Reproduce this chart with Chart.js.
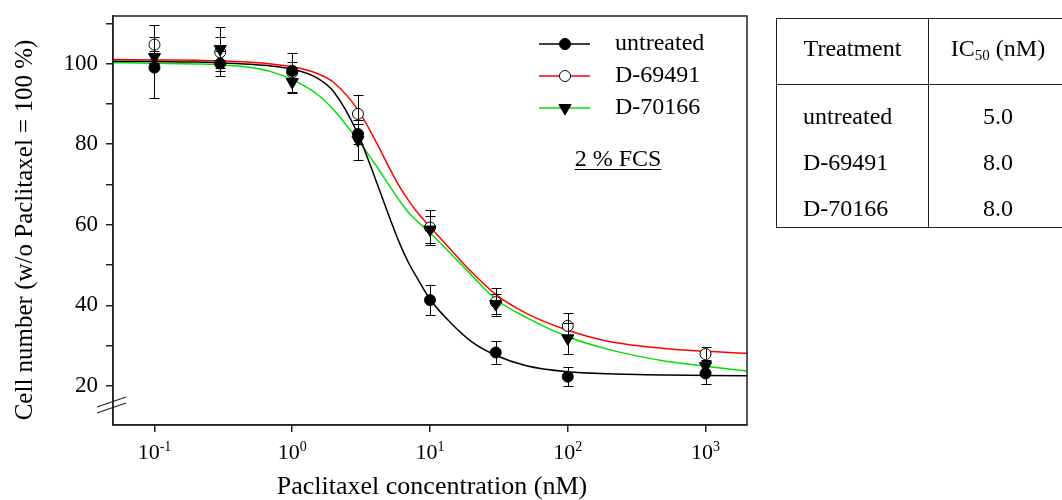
<!DOCTYPE html>
<html lang="en">
<head>
<meta charset="UTF-8">
<title>Paclitaxel dose response</title>
<script src="https://cdn.jsdelivr.net/npm/chart.js"></script>
<style>
  body { margin: 0; background: #fff; font-family: "Liberation Serif", "Times New Roman", serif; }
  #wrap { position: relative; width: 1062px; height: 500px; overflow: hidden; }
  #chartBox { position: absolute; left: 0; top: 0; width: 1062px; height: 500px; }
  .tbl { position: absolute; left: 776px; top: 18px; width: 320px; height: 210px;
         border: 1.5px solid #222; border-right: none; box-sizing: border-box; }
  .vline { position: absolute; left: 151px; top: 0; width: 0; height: 100%; border-left: 1.5px solid #222; }
  .hline { position: absolute; left: 0; top: 65px; width: 100%; height: 0; border-top: 1.5px solid #222; }
  .cell { position: absolute; font-size: 24px; color: #000; white-space: nowrap; line-height: 1; }
  .cell sub { font-size: 15px; vertical-align: -4px; }
</style>
</head>
<body>
<div id="wrap">
  <div id="chartBox"><canvas id="grafico"></canvas></div>
  <div class="tbl" id="tabella"></div>
</div>
<script>
  const concentrazioni = [0.1, 0.3, 1, 3, 10, 30, 100, 1000];
  const untreatedMedia = [99.0, 100.0, 98.2, 82.5, 41.3, 28.3, 22.3, 23.1];
  const untreatedErr   = [7.6, 3.2, 2.2, 2.5, 3.8, 2.8, 2.4, 2.6];
  const d69491Media    = [104.7, 102.8, 97.8, 87.5, 59.3, 40.8, 34.9, 27.9];
  const d69491Err      = [4.8, 3.9, 4.9, 4.8, 4.3, 3.4, 3.1, 1.8];
  const d70166Media    = [101.6, 103.6, 95.4, 81.0, 58.8, 40.3, 31.8, 24.9];
  const d70166Err      = [1.5, 5.4, 2.8, 5.0, 3.3, 2.4, 3.8, 1.5];

  // curve di fit
  const fitX         = [0.05, 0.1, 0.2, 0.3, 0.5, 0.7, 1, 1.5, 2, 3, 4, 5, 6, 7, 8, 10, 14, 20, 30, 50, 100, 200, 500, 1000, 2000];
  const fitUntreated = [100.6, 100.5, 100.4, 100.2, 99.8, 99.4, 98.6, 96.5, 93.0, 82.5, 71.5, 62.5, 55.5, 50.5, 47.0, 41.5, 35.8, 31.0, 27.6, 25.0, 23.5, 23.0, 22.7, 22.6, 22.5];
  const fitD69491    = [101.0, 100.9, 100.8, 100.7, 100.3, 99.9, 99.2, 97.6, 95.3, 88.5, 81.0, 74.5, 69.5, 66.0, 63.3, 59.5, 54.0, 48.3, 42.7, 38.0, 33.8, 31.0, 29.3, 28.6, 28.1];
  const fitD70166    = [100.2, 100.1, 99.9, 99.7, 99.0, 98.0, 96.0, 92.5, 88.5, 81.0, 75.0, 70.0, 66.0, 63.0, 61.0, 58.0, 53.0, 47.5, 41.5, 37.0, 32.2, 29.0, 26.2, 24.9, 23.7];

  const xTicks = [0.1, 1, 10, 100, 1000];
  const xEsponenti = ['-1', '0', '1', '2', '3'];
  const yTicks = [20, 30, 40, 50, 60, 70, 80, 90, 100, 110];
  const yEtichette = [20, 40, 60, 80, 100];

  const serieNomi = ['untreated', 'D-69491', 'D-70166'];
  const serieColori = ['#000000', '#ff0000', '#00e000'];

  const trattamenti = ['untreated', 'D-69491', 'D-70166'];
  const ic50 = ['5.0', '8.0', '8.0'];

  const FONT = '"Liberation Serif", "Times New Roman", serif';
  const AXIS = '#222';

  function punti(xs, ys) { return xs.map((x, i) => ({ x: x, y: ys[i] })); }

  const marcatori = [
    { style: 'circle', radius: 5.5, fill: '#000', rot: 0 },
    { style: 'circle', radius: 5.5, fill: '#fff', rot: 0 },
    { style: 'triangle', radius: 7, fill: '#000', rot: 180 }
  ];

  const mediePerSerie = [untreatedMedia, d69491Media, d70166Media];
  const erroriPerSerie = [untreatedErr, d69491Err, d70166Err];
  const fitPerSerie = [fitUntreated, fitD69491, fitD70166];

  const datasets = [];
  // punti: untreated sopra gli altri
  [0, 2, 1].forEach((s, k) => {
    datasets.push({
      type: 'scatter',
      label: serieNomi[s] + ' dati',
      data: punti(concentrazioni, mediePerSerie[s]),
      errori: erroriPerSerie[s],
      pointStyle: marcatori[s].style,
      pointRadius: marcatori[s].radius,
      pointRotation: marcatori[s].rot,
      pointBackgroundColor: marcatori[s].fill,
      pointBorderColor: '#000',
      pointBorderWidth: 1,
      showLine: false,
      order: k + 1
    });
  });
  serieNomi.forEach((nome, s) => {
    datasets.push({
      type: 'line',
      label: nome + ' fit',
      data: punti(fitX, fitPerSerie[s]),
      borderColor: serieColori[s],
      borderWidth: 1.5,
      pointRadius: 0,
      cubicInterpolationMode: 'monotone',
      fill: false,
      order: 10 + s
    });
  });

  function disegnaMarcatore(ctx, m, x, y) {
    ctx.save();
    ctx.fillStyle = m.fill;
    ctx.strokeStyle = '#000';
    ctx.lineWidth = 1;
    ctx.beginPath();
    if (m.style === 'circle') {
      ctx.arc(x, y, m.radius, 0, Math.PI * 2);
    } else {
      const r = m.radius;
      ctx.moveTo(x - r * 0.866, y - r * 0.5);
      ctx.lineTo(x + r * 0.866, y - r * 0.5);
      ctx.lineTo(x, y + r);
      ctx.closePath();
    }
    ctx.fill();
    ctx.stroke();
    ctx.restore();
  }

  const decorazioni = {
    id: 'decorazioni',
    afterDatasetsDraw(chart) {
      const ctx = chart.ctx;
      const xs = chart.scales.x, ys = chart.scales.y;
      ctx.save();
      ctx.strokeStyle = '#000';
      ctx.lineWidth = 1;
      chart.data.datasets.forEach(ds => {
        if (!ds.errori) return;
        ds.data.forEach((p, i) => {
          const px = Math.round(xs.getPixelForValue(p.x)) + 0.5;
          const yt = ys.getPixelForValue(p.y + ds.errori[i]);
          const yb = ys.getPixelForValue(p.y - ds.errori[i]);
          ctx.beginPath();
          ctx.moveTo(px, yt); ctx.lineTo(px, yb);
          ctx.moveTo(px - 5, Math.round(yt) + 0.5); ctx.lineTo(px + 5, Math.round(yt) + 0.5);
          ctx.moveTo(px - 5, Math.round(yb) + 0.5); ctx.lineTo(px + 5, Math.round(yb) + 0.5);
          ctx.stroke();
        });
      });
      ctx.restore();
    },
    afterDraw(chart) {
      const ctx = chart.ctx;
      const a = chart.chartArea;
      const xs = chart.scales.x;
      ctx.save();
      // cornice
      ctx.strokeStyle = AXIS;
      ctx.lineWidth = 1.5;
      ctx.strokeRect(a.left, a.top, a.right - a.left, a.bottom - a.top);

      // interruzione asse y
      ctx.lineWidth = 1.2;
      ctx.beginPath();
      ctx.moveTo(a.left - 16, 407); ctx.lineTo(a.left + 13, 397);
      ctx.moveTo(a.left - 16, 413); ctx.lineTo(a.left + 13, 403);
      ctx.stroke();

      // etichette asse x con esponente
      ctx.fillStyle = '#000';
      ctx.textBaseline = 'alphabetic';
      xTicks.forEach((v, i) => {
        const px = xs.getPixelForValue(v);
        ctx.font = '22px ' + FONT;
        const wb = ctx.measureText('10').width;
        ctx.font = '14px ' + FONT;
        const we = ctx.measureText(xEsponenti[i]).width;
        const x0 = px - (wb + we) / 2;
        ctx.font = '22px ' + FONT;
        ctx.textAlign = 'left';
        ctx.fillText('10', x0, 459);
        ctx.font = '14px ' + FONT;
        ctx.fillText(xEsponenti[i], x0 + wb, 451);
      });

      // titoli assi
      ctx.textAlign = 'center';
      ctx.textBaseline = 'middle';
      ctx.font = '26px ' + FONT;
      ctx.fillText('Paclitaxel concentration (nM)', 432, 487);
      ctx.font = '25px ' + FONT;
      ctx.save();
      ctx.translate(25, 230);
      ctx.rotate(-Math.PI / 2);
      ctx.fillText('Cell number (w/o Paclitaxel = 100 %)', 0, 0);
      ctx.restore();

      // legenda
      const righe = [44, 76, 108];
      serieNomi.forEach((nome, s) => {
        const y = righe[s];
        ctx.strokeStyle = serieColori[s];
        ctx.lineWidth = 1.5;
        ctx.beginPath();
        ctx.moveTo(539, y); ctx.lineTo(590, y);
        ctx.stroke();
        disegnaMarcatore(ctx, marcatori[s], 565, y);
        ctx.fillStyle = '#000';
        ctx.font = '24px ' + FONT;
        ctx.textAlign = 'left';
        ctx.textBaseline = 'middle';
        ctx.fillText(nome, 615, y);
      });

      // nota FCS sottolineata
      ctx.font = '24px ' + FONT;
      ctx.textAlign = 'center';
      ctx.textBaseline = 'alphabetic';
      ctx.fillText('2 % FCS', 618, 166);
      const wf = ctx.measureText('2 % FCS').width;
      ctx.strokeStyle = '#000';
      ctx.lineWidth = 1;
      ctx.beginPath();
      ctx.moveTo(618 - wf / 2, 169.5); ctx.lineTo(618 + wf / 2, 169.5);
      ctx.stroke();
      ctx.restore();
    }
  };

  function senzaPadding(s) {
    s.paddingTop = 0; s.paddingBottom = 0; s.paddingLeft = 0; s.paddingRight = 0;
  }

  const ctx = document.getElementById('grafico').getContext('2d');
  const chart = new Chart(ctx, {
    data: { datasets: datasets },
    options: {
      responsive: true,
      maintainAspectRatio: false,
      animation: false,
      layout: { padding: { left: 0, right: 315, top: 16, bottom: 0 } },
      plugins: { legend: { display: false }, tooltip: { enabled: false } },
      scales: {
        x: {
          type: 'logarithmic',
          position: 'bottom',
          min: 0.05,
          max: 2000,
          afterBuildTicks: s => { s.ticks = xTicks.map(v => ({ value: v })); },
          afterFit: s => { s.height = 75; senzaPadding(s); },
          ticks: { display: false },
          grid: { drawOnChartArea: false, drawTicks: true, tickLength: 7, color: AXIS, lineWidth: 1.5 },
          border: { display: true, color: AXIS, width: 1.5 }
        },
        y: {
          type: 'linear',
          min: 10.3,
          max: 111.8,
          afterBuildTicks: s => { s.ticks = yTicks.map(v => ({ value: v })); },
          afterFit: s => { s.width = 113; senzaPadding(s); },
          ticks: {
            callback: v => yEtichette.includes(v) ? String(v) : '',
            font: { family: FONT, size: 23 },
            color: '#000',
            padding: 8
          },
          grid: { drawOnChartArea: false, drawTicks: true, tickLength: 7, color: AXIS, lineWidth: 1.5 },
          border: { display: true, color: AXIS, width: 1.5 }
        }
      }
    },
    plugins: [decorazioni]
  });

  // tabella IC50
  const tab = document.getElementById('tabella');
  tab.innerHTML =
    '<div class="vline"></div><div class="hline"></div>' +
    '<div class="cell" style="left:0;width:151px;text-align:center;top:17px">Treatment</div>' +
    '<div class="cell" style="left:151px;width:140px;text-align:center;top:17px">IC<sub>50</sub> (nM)</div>';
  trattamenti.forEach((t, i) => {
    const top = 85 + i * 46;
    tab.innerHTML +=
      '<div class="cell" style="left:26px;top:' + top + 'px">' + t + '</div>' +
      '<div class="cell" style="left:151px;width:140px;text-align:center;top:' + top + 'px">' + ic50[i] + '</div>';
  });
</script>
</body>
</html>
